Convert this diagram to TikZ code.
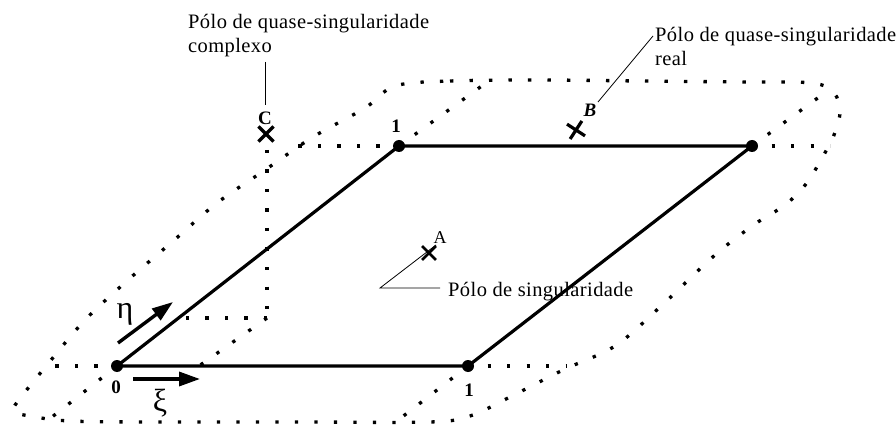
\documentclass[tikz,border=0pt]{standalone}
\usepackage{fontspec}
\setmainfont{Liberation Serif}
\newfontfamily\spacedfont[LetterSpace=2]{Liberation Serif}
\usetikzlibrary{arrows.meta,shapes.misc}
\begin{document}
\begin{tikzpicture}[x=1pt,y=-1pt,
  edge/.style={line width=3.2pt},
  dotline/.style={line width=3.3pt, dash pattern=on 3.3pt off 16.2pt},
  leader/.style={line width=0.8pt},
  vtx/.style={circle, fill=black, inner sep=0pt, minimum size=12pt},
  lbl/.style={font=\spacedfont\fontsize{20.5}{24}\selectfont, inner sep=0pt, align=left},
  num/.style={font=\fontsize{19}{19}\selectfont\bfseries, inner sep=0pt},
  xmark/.style={draw, cross out, line width=3.2pt, minimum size=12pt, inner sep=0pt},
  dir/.style={line width=3.4pt, -{Triangle[length=21pt,width=14pt]}},
  greek/.style={font=\fontsize{32}{32}\selectfont, inner sep=0pt},
]
\useasboundingbox (0,0) rectangle (896,430);

% outer dotted contour
\draw[dotline] plot[smooth cycle, tension=0.55] coordinates {
 (395,86) (450,81) (540,80) (640,81) (740,82) (812,83) (834,93) (840,112)
 (834,135) (822,158) (806,184) (785,205) (755,224) (715,255) (660,307)
 (615,346) (563,370) (510,397) (470,416) (430,422) (300,422) (160,422)
 (70,421) (30,416) (13,411) (22,396) (47,365) (85,320) (128,280) (172,242)
 (217,203) (265,170) (313,137) (365,108)};

% vertices
\coordinate (O) at (117,366);
\coordinate (P) at (468,366);
\coordinate (Q) at (399,146);
\coordinate (R) at (752,146);

% dotted extension ends
\coordinate (Qe) at (490,80);
\coordinate (Re) at (830,89);
\coordinate (Oe) at (52,417);
\coordinate (Pe) at (397,421);
\coordinate (Qh) at (298,146);
\coordinate (Rh) at (830,146);
\coordinate (Oh) at (45,366);
\coordinate (Ph) at (566,366);

\draw[dotline] (Q) -- (Qe);
\draw[dotline] (R) -- (Re);
\draw[dotline] (O) -- (Oe);
\draw[dotline] (P) -- (Pe);
\draw[dotline] (Q) -- (Qh);
\draw[dotline] (R) -- (Rh);
\draw[dotline] (O) -- (Oh);
\draw[dotline] (P) -- (Ph);

% projection of C
\coordinate (Ct) at (267,150);
\coordinate (Cb) at (267,318);
\coordinate (Cl) at (180,318);
\coordinate (Cd) at (199,366);
\draw[dotline] (Ct) -- (Cb);
\draw[dotline] (Cb) -- (Cl);
\draw[dotline] (Cb) -- (Cd);

% parallelogram
\draw[edge] (O) -- (P) -- (R) -- (Q) -- cycle;
\node[vtx] (vO) at (O) {};
\node[vtx] (vP) at (P) {};
\node[vtx] (vQ) at (Q) {};
\node[vtx] (vR) at (R) {};

% labels at vertices
\node[num] (l0) at (116,387) {0};
\node[num] (l1a) at (469,390) {1};
\node[num] (l1b) at (396,126) {1};

% poles
\node[xmark] (xC) at (266,134) {};
\node[num] (nC) at (265,118) {C};
\node[xmark, rotate=12] (xB) at (576,130) {};
\node[num, font=\fontsize{19}{19}\selectfont\bfseries\itshape] (nB) at (590,110) {B};
\node[xmark, minimum size=11pt, line width=2.8pt] (xA) at (429,253) {};
\node[num, font=\fontsize{18}{18}\selectfont] (nA) at (440,238) {A};

% direction arrows
\coordinate (et) at (118,343);
\coordinate (eh) at (173,302);
\coordinate (xt) at (133,379);
\coordinate (xh) at (200,379);
\draw[dir] (et) -- (eh);
\draw[dir] (xt) -- (xh);
\node[greek] (eta) at (125,314) {η};
\node[greek] (xi) at (160,403) {ξ};

% texts
\node[lbl, anchor=north west] (tC) at (188,14.5) {Pólo de quase-singularidade\\complexo};
\node[lbl, anchor=north west] (tB) at (655,27.5) {Pólo de quase-singularidade\\real};
\node[lbl, anchor=base west] (tA) at (448,296) {Pólo de singularidade};

% leaders
\coordinate (c1) at (265,62);
\coordinate (c2) at (265,105);
\draw[leader] (c1) -- (c2);
\coordinate (b1) at (598,102);
\coordinate (b2) at (653,36);
\draw[leader] (b1) -- (b2);
\coordinate (a1) at (436,245);
\coordinate (a2) at (380,288);
\coordinate (a3) at (440,288);
\draw[leader] (a1) -- (a2) -- (a3);
\end{tikzpicture}
\end{document}
